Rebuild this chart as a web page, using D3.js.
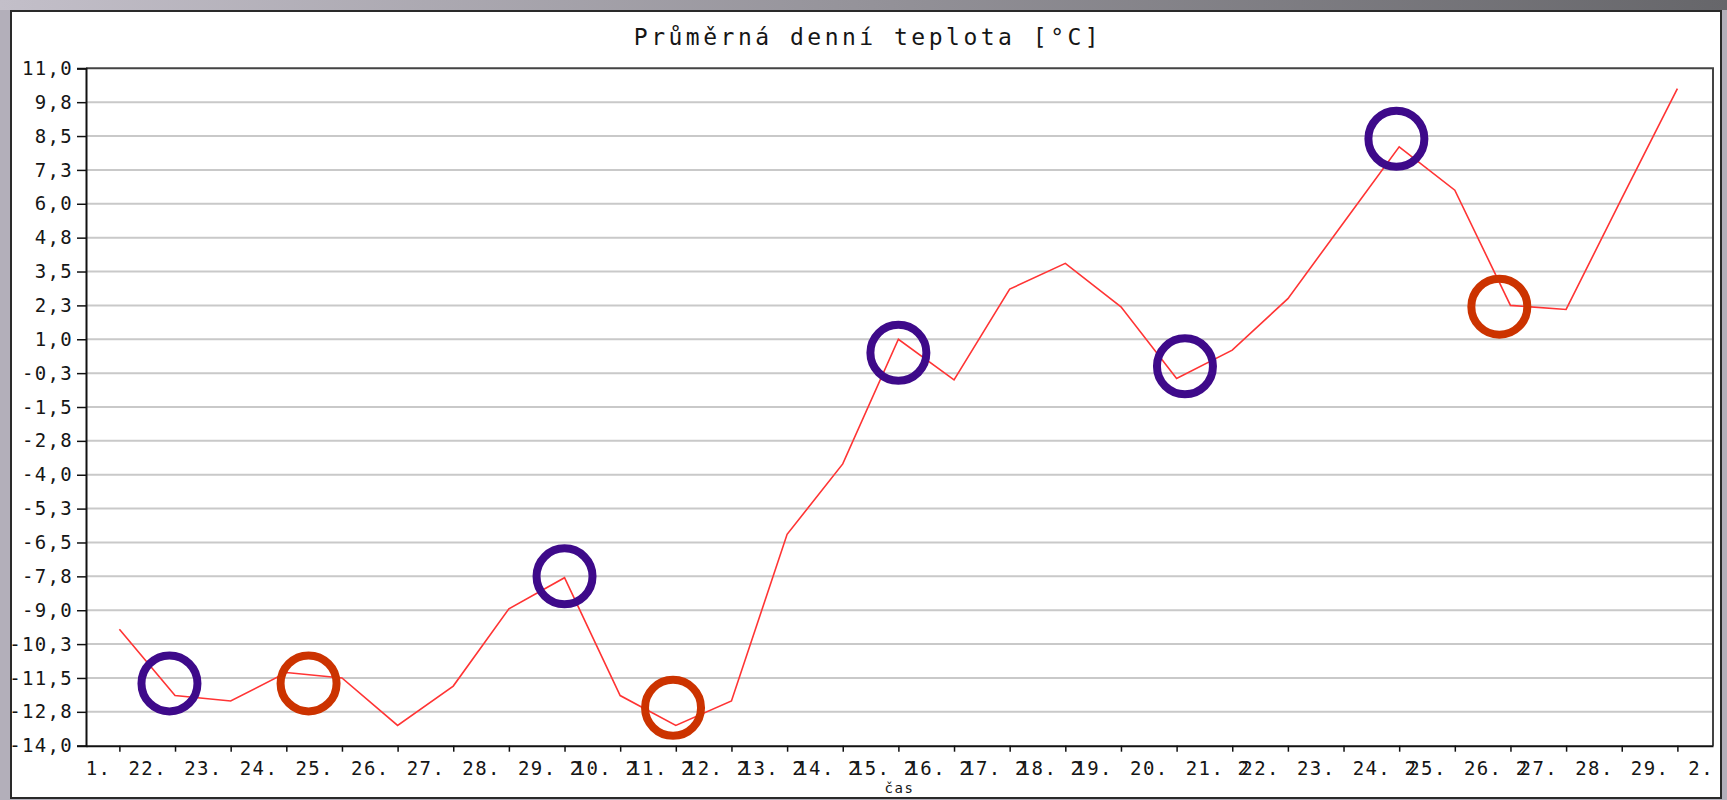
<!DOCTYPE html>
<html>
<head>
<meta charset="utf-8">
<script src="https://cdn.jsdelivr.net/npm/d3@7"></script>
<style>
    body { margin: 0; background: #b3afba; overflow: hidden; }
    svg { display: block; }
    text { font-family: "DejaVu Sans Mono", monospace; fill: #161616; }
</style>
</head>
<body>
<div id="chart"></div>
<script>
// průměrná denní teplota, jedna hodnota na den
const temps = [
    -9.7, -12.15, -12.35, -11.3, -11.5, -13.25, -11.8, -8.95, -7.8, -12.15,
    -13.25, -12.35, -6.2, -3.6, 1.0, -0.5, 2.85, 3.8, 2.2, -0.45,
    0.6, 2.5, 5.3, 8.1, 6.5, 2.25, 2.1, 6.2, 10.25
];
const dayIndex = temps.map((d, i) => i);

const yTicks = [11, 9.75, 8.5, 7.25, 6, 4.75, 3.5, 2.25, 1, -0.25, -1.5, -2.75, -4,
    -5.25, -6.5, -7.75, -9, -10.25, -11.5, -12.75, -14];
const yLabels = ["11,0", "9,8", "8,5", "7,3", "6,0", "4,8", "3,5", "2,3", "1,0", "-0,3",
    "-1,5", "-2,8", "-4,0", "-5,3", "-6,5", "-7,8", "-9,0", "-10,3", "-11,5", "-12,8", "-14,0"];

// popisky osy x (tak jak jsou vidět, některé se překrývají)
const xLabels = ["1.", "22.", "23.", "24.", "25.", "26.", "27.", "28.", "29.", "10.",
    "11.", "12.", "13.", "14.", "15.", "16.", "17.", "18.", "19.", "20.",
    "21.", "22.", "23.", "24.", "25.", "26.", "27.", "28.", "29.", "2."];
const xOverlay = ["", "", "", "", "", "", "", "", "", "2",
    "2", "2", "2", "2", "2", "2", "2", "2", "2", "",
    "", "2", "", "", "2", "", "2", "", "", ""];

// zakroužkované body: [den, teplota]
const purpleMarks = [[0.9, -11.7], [8.0, -7.75], [14.0, 0.5], [19.15, 0.0], [22.95, 8.4]];
const orangeMarks = [[3.4, -11.7], [9.95, -12.6], [24.8, 2.2]];

const W = 1727, H = 800;
const box = {left: 11, top: 11, right: 1721, bottom: 798};
const plot = {left: 86, top: 68.3, right: 1713, bottom: 745.7};

const svg = d3.select("#chart").append("svg")
    .attr("width", W)
    .attr("height", H);

// pozadí okna
const grad = svg.append("defs").append("linearGradient")
    .attr("id", "topband").attr("x1", "0").attr("x2", "1");
grad.append("stop").attr("offset", "0").attr("stop-color", "#c3bfc9");
grad.append("stop").attr("offset", "1").attr("stop-color", "#66666a");
svg.append("rect").attr("width", W).attr("height", H).attr("fill", "#b3afba");
svg.append("rect").attr("width", W).attr("height", 10).attr("fill", "url(#topband)");

svg.append("rect")
    .attr("x", box.left).attr("y", box.top)
    .attr("width", box.right - box.left).attr("height", box.bottom - box.top)
    .attr("fill", "#fff")
    .attr("stroke", "#2a2a2a")
    .attr("stroke-width", 2);

const x = d3.scaleLinear().domain([-0.6, 28.64]).range([plot.left, plot.right]);
const y = d3.scaleLinear().domain([-14, 11]).range([plot.bottom, plot.top]);

// mřížka
svg.append("g")
    .selectAll("line")
    .data(yTicks.filter(v => v !== 11 && v !== -14))
    .join("line")
    .attr("x1", plot.left).attr("x2", plot.right)
    .attr("y1", d => y(d)).attr("y2", d => y(d))
    .attr("stroke", "#c9c9c9")
    .attr("stroke-width", 2);

// rámeček grafu nahoře a vpravo
svg.append("path")
    .attr("d", `M${plot.left},${plot.top}H${plot.right}V${plot.bottom}`)
    .attr("fill", "none")
    .attr("stroke", "#444")
    .attr("stroke-width", 2);

const line = d3.line()
    .x((d, i) => x(dayIndex[i]))
    .y(d => y(d));

svg.append("path")
    .datum(temps)
    .attr("d", line)
    .attr("fill", "none")
    .attr("stroke", "#ff3434")
    .attr("stroke-width", 1.6);

// osa y
const yAxis = svg.append("g")
    .attr("transform", `translate(${plot.left},0)`)
    .call(d3.axisLeft(y).tickValues(yTicks).tickFormat((d, i) => yLabels[i]).tickSize(9).tickPadding(4));
yAxis.select(".domain").attr("stroke", "#111").attr("stroke-width", 2);
yAxis.selectAll(".tick line").attr("stroke", "#111").attr("stroke-width", 1.5);
yAxis.selectAll(".tick text")
    .attr("font-size", 19)
    .attr("letter-spacing", 1.3)
    .attr("font-family", "DejaVu Sans Mono, monospace")
    .attr("fill", "#161616");

// osa x
const xAxis = svg.append("g")
    .attr("transform", `translate(0,${plot.bottom})`)
    .call(d3.axisBottom(x).tickValues(dayIndex).tickFormat("").tickSize(6).tickSizeOuter(0));
xAxis.select(".domain").attr("stroke", "#111").attr("stroke-width", 2);
xAxis.selectAll(".tick line").attr("stroke", "#111").attr("stroke-width", 1.5);

const labelEnd = i => Math.min(x(i) - 8, plot.right + 1);

// překrytý znak: jeden text, druhý znak posunutý zpět přes dx
svg.append("g")
    .attr("font-size", 19)
    .attr("letter-spacing", 1.4)
    .selectAll("text")
    .data(xLabels)
    .join("text")
    .attr("x", (d, i) => labelEnd(i))
    .attr("y", 775)
    .attr("text-anchor", "end")
    .attr("dx", (d, i) => xOverlay[i] ? "0 -9" : null)
    .text((d, i) => xOverlay[i] + d);

svg.append("text")
    .attr("x", (plot.left + plot.right) / 2)
    .attr("y", 793)
    .attr("text-anchor", "middle")
    .attr("font-size", 14)
    .attr("letter-spacing", 1.5)
    .text("čas");

svg.append("text")
    .attr("x", (box.left + box.right) / 2 + 2)
    .attr("y", 45)
    .attr("text-anchor", "middle")
    .attr("font-size", 23)
    .attr("letter-spacing", 3.5)
    .text("Průměrná denní teplota [°C]");

// kroužky
const marks = purpleMarks.map(d => ({p: d, c: "#3e0a8a"}))
    .concat(orangeMarks.map(d => ({p: d, c: "#cc3300"})));
svg.append("g")
    .selectAll("circle")
    .data(marks)
    .join("circle")
    .attr("cx", d => x(d.p[0]))
    .attr("cy", d => y(d.p[1]))
    .attr("r", 28)
    .attr("fill", "none")
    .attr("stroke", d => d.c)
    .attr("stroke-width", 8);
</script>
</body>
</html>
